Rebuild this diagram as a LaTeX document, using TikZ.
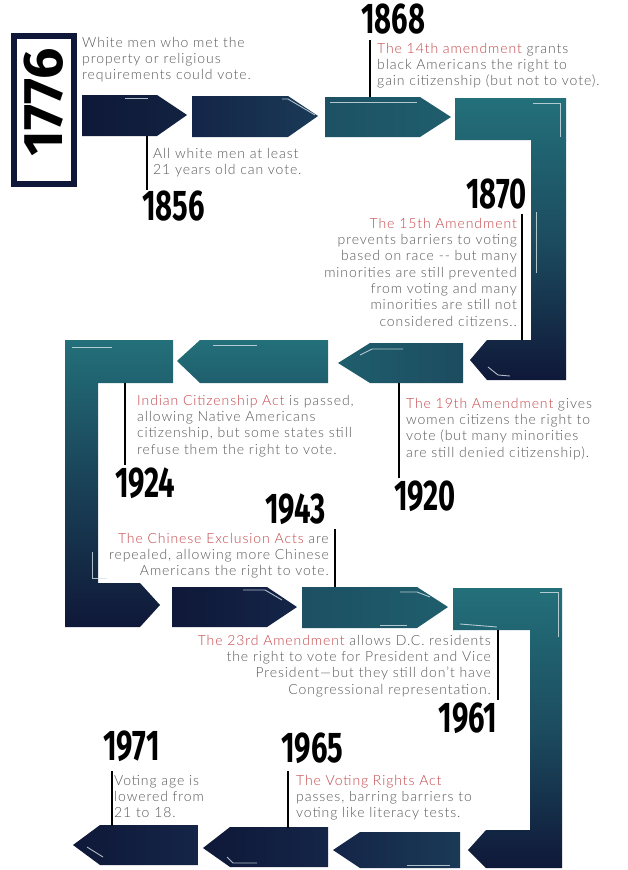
\documentclass[tikz,border=0pt]{standalone}
\usepackage{fontspec}
\IfFontExistsTF{Lato Light}{\setmainfont{Lato Light}[LetterSpace=6.5]}{\setmainfont{Lato}[LetterSpace=6.5]}
\newfontfamily\yearfont{Fira Sans}
\usetikzlibrary{calc}
\definecolor{navy}{HTML}{0F1838}
\definecolor{navyb}{HTML}{142548}
\definecolor{navyc}{HTML}{1A3A57}
\definecolor{tealA}{HTML}{1F5E6D}
\definecolor{tealB}{HTML}{23707A}
\definecolor{tealC}{HTML}{1C4C5F}
\definecolor{txtgray}{HTML}{5A5A5A}
\definecolor{redt}{HTML}{C4474B}
\definecolor{hl}{HTML}{D8E4EA}
\newcommand{\yr}[1]{\scalebox{0.68}[1]{\yearfont\bfseries\fontsize{43}{43}\selectfont #1}}
\newcommand{\rd}[1]{\textcolor{redt}{#1}}
\tikzset{
  txt/.style={font=\fontsize{14}{16.3}\selectfont, text=txtgray, inner sep=0pt},
  txtl/.style={txt, align=left, anchor=north west},
  txtr/.style={txt, align=right, anchor=north east},
  year/.style={inner sep=0pt, text=black},
  tick/.style={line width=2.4pt, black},
  hilite/.style={draw=hl, line width=0.9pt, opacity=0.8},
}
\begin{document}
\begin{tikzpicture}[x=1pt,y=-1pt]
\useasboundingbox (0,0) rectangle (627,870);
\fill[white] (0,0) rectangle (627,870);

% 1776 frame
\fill[navy] (11,33) rectangle (77,187);
\fill[white] (17,39) rectangle (71,181);
\node[year, rotate=90] (y1776) at (44,102) {\scalebox{1.9}[1.3]{\yr{1776}}};

% Row 1 arrows
\shade[left color=navy, right color=navy!85!tealA] (82,95) -- (157,95) -- (187,115) -- (157,136) -- (82,136) -- cycle;
\shade[left color=navyb, right color=navyc] (192,96) -- (288,96) -- (318,116) -- (288,137) -- (192,137) -- cycle;
\shade[left color=tealC!70!tealA, right color=tealA] (325,97) -- (420,97) -- (451,117) -- (420,137) -- (325,137) -- cycle;
\shade[top color=tealB, bottom color=navy, middle color=tealC] (455,98) -- (566,98) -- (566,380) -- (487,380) -- (470,360) -- (487,340) -- (531,340) -- (531,140) -- (455,140) -- cycle;

% Row 2 arrows
\shade[left color=tealA, right color=tealC] (338,363) -- (370,343) -- (463,343) -- (463,383) -- (370,383) -- cycle;
\shade[top color=tealB, bottom color=tealA] (177,361) -- (200,340) -- (328,340) -- (328,383) -- (200,383) -- cycle;
\shade[top color=tealB, bottom color=navy, middle color=tealC!80!navy] (173,340) -- (65,340) -- (65,627) -- (140,627) -- (160,605) -- (140,583) -- (98,583) -- (98,383) -- (173,383) -- cycle;

% Row 3 arrows
\shade[left color=navy, right color=navyb] (172,587) -- (267,587) -- (297,607) -- (267,627) -- (172,627) -- cycle;
\shade[left color=tealC!80!tealA, right color=tealA] (302,587) -- (417,587) -- (448,607) -- (417,628) -- (302,628) -- cycle;
\shade[top color=tealB, bottom color=navy, middle color=tealC] (453,588) -- (562,588) -- (562,868) -- (486,868) -- (468,850) -- (486,830) -- (530,830) -- (530,630) -- (453,630) -- cycle;

% Row 4 arrows
\shade[left color=navyb, right color=navyc] (333,850) -- (360,832) -- (460,832) -- (460,868) -- (360,868) -- cycle;
\shade[left color=navy, right color=navyb] (203,848) -- (230,827) -- (328,827) -- (328,867) -- (230,867) -- cycle;
\shade[left color=navy, right color=navyb] (73,845) -- (100,825) -- (198,825) -- (198,865) -- (100,865) -- cycle;

% highlights
\draw[hilite] (125,98) -- (148,98);
\draw[hilite] (282,99) -- (288,99) -- (315,115);
\draw[hilite] (330,102) -- (417,102);
\draw[hilite] (533,103) -- (560,103) -- (560,137);
\draw[hilite] (536,212) -- (536,273);
\draw[hilite] (488,367) -- (498,375) -- (510,376);
\draw[hilite] (360,355) -- (372,349) -- (403,349);
\draw[hilite] (213,345) -- (257,345);
\draw[hilite] (72,347) -- (112,347);
\draw[hilite] (92,552) -- (92,578) -- (107,578);
\draw[hilite] (243,590) -- (265,590) -- (282,600);
\draw[hilite] (400,592) -- (417,592) -- (430,597);
\draw[hilite] (380,625) -- (407,625);
\draw[hilite] (540,592) -- (558,592) -- (558,637);
\draw[hilite] (460,624) -- (497,627);
\draw[hilite] (407,865) -- (450,865);
\draw[hilite] (227,857) -- (233,863) -- (257,863);
\draw[hilite] (87,847) -- (103,857);

% Years
\node[year, anchor=base west] (y1856) at (142,220) {\yr{1856}};
\node[year, anchor=base west] (y1868) at (361,33) {\yr{1868}};
\node[year, anchor=base east] (y1870) at (527,208) {\yr{1870}};
\node[year, anchor=base west] (y1920) at (394,510) {\yr{1920}};
\node[year, anchor=base west] (y1924) at (115,497) {\yr{1924}};
\node[year, anchor=base west] (y1943) at (265,523) {\yr{1943}};
\node[year, anchor=base east] (y1961) at (497,732) {\yr{1961}};
\node[year, anchor=base west] (y1965) at (281,762) {\yr{1965}};
\node[year, anchor=base west] (y1971) at (103,760) {\yr{1971}};

% ticks
\coordinate (t1856) at (147,136);
\coordinate (t1868) at (370,97);
\coordinate (t1870) at (522,340);
\coordinate (t1920) at (399,383);
\coordinate (t1924) at (125,383);
\coordinate (t1943) at (335,587);
\coordinate (t1961) at (498,630);
\coordinate (t1965) at (288,828);
\coordinate (t1971) at (112,826);
\draw[tick] (t1856) -- (t1856 |- y1856.north);
\draw[tick] (t1868) -- ($(t1868 |- y1868.south)+(0,6)$);
\draw[tick] (t1870) -- ($(t1870 |- y1870.south)+(0,5)$);
\draw[tick] (t1920) -- ($(t1920 |- y1920.north)+(0,-2)$);
\draw[tick] (t1924) -- ($(t1924 |- y1924.north)+(0,-2)$);
\draw[tick] (t1943) -- ($(t1943 |- y1943.south)+(0,5)$);
\draw[tick] (t1961) -- ($(t1961 |- y1961.north)+(0,-2)$);
\draw[tick] (t1965) -- ($(t1965 |- y1965.south)+(0,8)$);
\draw[tick] (t1971) -- ($(t1971 |- y1971.south)+(0,10)$);

% Texts
\node[txtl] (d1776) at (82,37) {White men who met the\\property or religious\\requirements could vote.};
\node[txtl] (d1856) at (153,148) {All white men at least\\21 years old can vote.};
\node[txtl] (d1868) at (377,43) {\rd{The 14th amendment} grants\\black Americans the right to\\gain citizenship (but not to vote).};
\node[txtr] (d1870) at (517,218) {\rd{The 15th Amendment}\\prevents barriers to voting\\based on race -{}- but many\\minorities are still prevented\\from voting and many\\minorities are still not\\considered citizens..};
\node[txtl] (d1920) at (406,398) {\rd{The 19th Amendment} gives\\women citizens the right to\\vote (but many minorities\\are still denied citizenship).};
\node[txtl] (d1924) at (137,395) {\rd{Indian Citizenship Act} is passed,\\allowing Native Americans\\citizenship, but some states still\\refuse them the right to vote.};
\node[txtr] (d1943) at (329,533) {\rd{The Chinese Exclusion Acts} are\\repealed, allowing more Chinese\\Americans the right to vote.};
\node[txtr] (d1961) at (491,635) {\rd{The 23rd Amendment} allows D.C. residents\\the right to vote for President and Vice\\President---but they still don't have\\Congressional representation.};
\node[txtl] (d1965) at (296,775) {\rd{The Voting Rights Act}\\passes, barring barriers to\\voting like literacy tests.};
\node[txtl] (d1971) at (114,775) {Voting age is\\lowered from\\21 to 18.};
\end{tikzpicture}
\end{document}
